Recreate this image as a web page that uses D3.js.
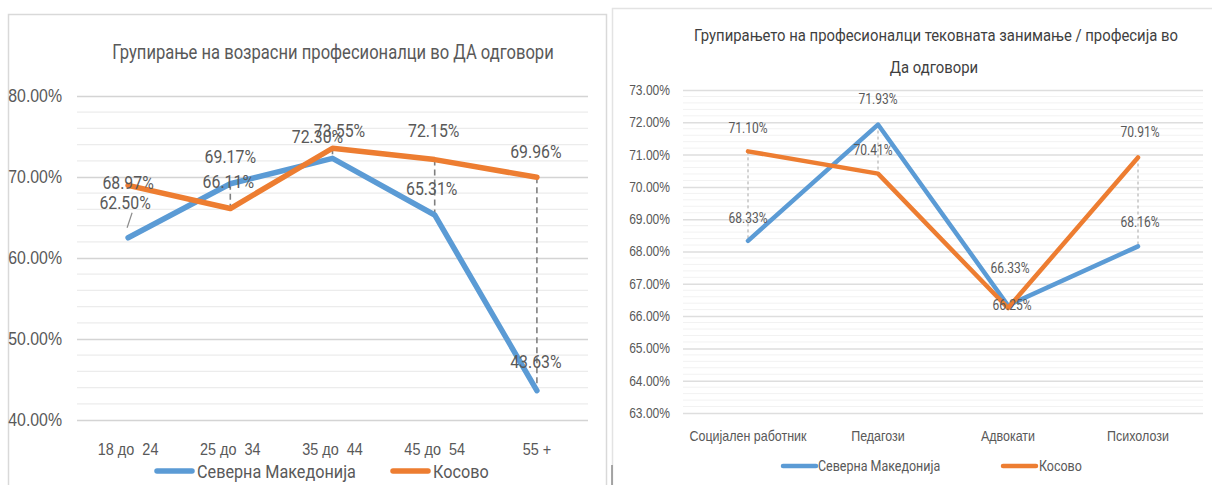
<!DOCTYPE html>
<html>
<head>
<meta charset="utf-8">
<script src="https://cdn.jsdelivr.net/npm/d3@7"></script>
<style>
  body { margin: 0; background: #fff; }
  svg { display: block; font-family: Roboto, "Liberation Sans", sans-serif; }
  text { white-space: pre; }
</style>
</head>
<body>
<script>
// left chart: age groups
var ageGroups = ["18 до  24", "25 до  34", "35 до  44", "45 до  54", "55 +"];
var ageMK = [62.50, 69.17, 72.30, 65.31, 43.63];
var ageKS = [68.97, 66.11, 73.55, 72.15, 69.96];
var ageTicks = [40, 50, 60, 70, 80];

// right chart: professions
var professions = ["Социјален работник", "Педагози", "Адвокати", "Психолози"];
var profMK = [68.33, 71.93, 66.33, 68.16];
var profKS = [71.10, 70.41, 66.25, 70.91];
var profTicks = [63, 64, 65, 66, 67, 68, 69, 70, 71, 72, 73];

var seriesNames = ["Северна Македонија", "Косово"];
var colors = ["#5b9bd5", "#ed7d31"];

// narrow the glyphs a bit, no condensed font is installed
function squeeze(sel, f) {
  sel.each(function() {
    var len = this.getComputedTextLength();
    d3.select(this).attr("textLength", len * f).attr("lengthAdjust", "spacingAndGlyphs");
  });
}

function init(){

var svg = d3.select("body").append("svg")
  .attr("width", 1212)
  .attr("height", 485);

// panel frames
svg.append("path")
  .attr("d", "M8.5,485 V14.5 H606.5 V485")
  .attr("fill", "none").attr("stroke", "#d9d9d9").attr("stroke-width", 1.5);
svg.append("path")
  .attr("d", "M612.5,485 V8.5 H1212")
  .attr("fill", "none").attr("stroke", "#e3e3e3").attr("stroke-width", 1.5);
svg.append("line")
  .attr("x1", 612).attr("x2", 612).attr("y1", 465).attr("y2", 485)
  .attr("stroke", "#8c8c8c").attr("stroke-width", 1.5);

// ---------- left chart ----------
var x1 = d3.scaleBand().domain(ageGroups).range([77, 588]);
var y1 = d3.scaleLinear().domain([40, 80]).range([420, 96]);

var g1 = svg.append("g");

g1.append("text")
  .attr("x", 333).attr("y", 52)
  .attr("text-anchor", "middle").attr("dominant-baseline", "central")
  .attr("fill", "#595959").style("font-size", "19.5px")
  .text("Групирање на возрасни професионалци во ДА одговори")
  .call(squeeze, 0.85);

// minor grid every 2%
g1.append("g").selectAll("line")
  .data(d3.range(42, 80, 2).filter(function(d) { return d % 10 != 0; }))
  .enter().append("line")
  .attr("x1", 77).attr("x2", 588)
  .attr("y1", function(d) { return y1(d); }).attr("y2", function(d) { return y1(d); })
  .attr("stroke", "#ececec").attr("stroke-width", 1.2);

var yAxis1 = d3.axisLeft(y1).tickValues(ageTicks)
  .tickSize(-511).tickPadding(15)
  .tickFormat(function(d) { return d3.format(".2f")(d) + "%"; });

g1.append("g")
  .attr("transform", "translate(77,0)")
  .call(yAxis1)
  .call(function(g) {
    g.select(".domain").remove();
    g.selectAll(".tick line").attr("stroke", "#d4d4d4").attr("stroke-width", 1.6);
    g.selectAll(".tick text").attr("fill", "#595959").style("font-size", "18px")
      .call(squeeze, 0.88);
  });

var xAxis1 = d3.axisBottom(x1).tickSize(0).tickPadding(23);
g1.append("g")
  .attr("transform", "translate(0,420)")
  .call(xAxis1)
  .call(function(g) {
    g.select(".domain").remove();
    g.selectAll(".tick text").attr("fill", "#595959").style("font-size", "17px")
      .call(squeeze, 0.85);
  });

// high-low lines
var drop1 = [1, 2, 3, 4];
g1.append("g").selectAll("line")
  .data(drop1).enter().append("line")
  .attr("x1", function(i) { return x1(ageGroups[i]) + x1.bandwidth() / 2; })
  .attr("x2", function(i) { return x1(ageGroups[i]) + x1.bandwidth() / 2; })
  .attr("y1", function(i) { return y1(Math.max(ageMK[i], ageKS[i])); })
  .attr("y2", function(i) { return y1(Math.min(ageMK[i], ageKS[i])); })
  .attr("stroke", "#7f7f7f").attr("stroke-width", 1.6)
  .attr("stroke-dasharray", "6,4");

// leader line for first label
g1.append("line")
  .attr("x1", x1(ageGroups[0]) + x1.bandwidth() / 2 - 1)
  .attr("x2", x1(ageGroups[0]) + x1.bandwidth() / 2 + 4)
  .attr("y1", y1(ageMK[0]) - 10).attr("y2", y1(ageMK[0]) - 25)
  .attr("stroke", "#8c8c8c").attr("stroke-width", 1.2);

var line1 = d3.line()
  .x(function(d, i) { return x1(ageGroups[i]) + x1.bandwidth() / 2; })
  .y(function(d) { return y1(d); });

[ageMK, ageKS].forEach(function(s, k) {
  g1.append("path")
    .datum(s)
    .attr("d", line1)
    .attr("fill", "none")
    .attr("stroke", colors[k])
    .attr("stroke-width", 5.5)
    .attr("stroke-linejoin", "round")
    .attr("stroke-linecap", "round");
});

// label offsets [dx, dy] from the point
var lab1 = [
  [[-3, -35], [0, -27], [-15, -22], [-3, -26], [-1, -29]],
  [[0, -3], [-2, -27], [7, -18], [-1, -29], [-1, -26]]
];
[ageMK, ageKS].forEach(function(s, k) {
  g1.append("g").selectAll("text")
    .data(s).enter().append("text")
    .attr("x", function(d, i) { return x1(ageGroups[i]) + x1.bandwidth() / 2 + lab1[k][i][0]; })
    .attr("y", function(d, i) { return y1(d) + lab1[k][i][1]; })
    .attr("text-anchor", "middle").attr("dominant-baseline", "central")
    .attr("fill", "#595959").style("font-size", "18px")
    .text(function(d) { return d3.format(".2f")(d) + "%"; })
    .call(squeeze, 0.88);
});

// legend
var leg1 = [[157, 197], [393, 433]];
seriesNames.forEach(function(n, k) {
  g1.append("line")
    .attr("x1", leg1[k][0]).attr("x2", leg1[k][0] + 35)
    .attr("y1", 471).attr("y2", 471)
    .attr("stroke", colors[k]).attr("stroke-width", 5.5)
    .attr("stroke-linecap", "round");
  g1.append("text")
    .attr("x", leg1[k][1]).attr("y", 471)
    .attr("dominant-baseline", "central")
    .attr("fill", "#595959").style("font-size", "18px")
    .text(n)
    .call(squeeze, 0.9);
});

// ---------- right chart ----------
var x2 = d3.scaleBand().domain(professions).range([683, 1203]);
var y2 = d3.scaleLinear().domain([63, 73]).range([413, 90]);

var g2 = svg.append("g");

g2.append("text")
  .attr("x", 936).attr("y", 35)
  .attr("text-anchor", "middle").attr("dominant-baseline", "central")
  .attr("fill", "#3f3f3f").style("font-size", "16.5px")
  .text("Групирањето на професионалци тековната занимање / професија во")
  .call(squeeze, 0.9);
g2.append("text")
  .attr("x", 934).attr("y", 67)
  .attr("text-anchor", "middle").attr("dominant-baseline", "central")
  .attr("fill", "#3f3f3f").style("font-size", "16.5px")
  .text("Да одговори")
  .call(squeeze, 0.9);

// minor grid every 0.2%
g2.append("g").selectAll("line")
  .data(d3.range(63.2, 73, 0.2).filter(function(d) { return Math.abs(d - Math.round(d)) > 0.05; }))
  .enter().append("line")
  .attr("x1", 683).attr("x2", 1203)
  .attr("y1", function(d) { return y2(d); }).attr("y2", function(d) { return y2(d); })
  .attr("stroke", "#f2f2f2").attr("stroke-width", 1);

var yAxis2 = d3.axisLeft(y2).tickValues(profTicks)
  .tickSize(-520).tickPadding(13)
  .tickFormat(function(d) { return d3.format(".2f")(d) + "%"; });

g2.append("g")
  .attr("transform", "translate(683,0)")
  .call(yAxis2)
  .call(function(g) {
    g.select(".domain").remove();
    g.selectAll(".tick line").attr("stroke", "#dedede").attr("stroke-width", 1.5);
    g.selectAll(".tick text").attr("fill", "#595959").style("font-size", "14px")
      .call(squeeze, 0.86);
  });

var xAxis2 = d3.axisBottom(x2).tickSize(0).tickPadding(18);
g2.append("g")
  .attr("transform", "translate(0,413)")
  .call(xAxis2)
  .call(function(g) {
    g.select(".domain").remove();
    g.selectAll(".tick text").attr("fill", "#595959").style("font-size", "14.5px")
      .call(squeeze, 0.86);
  });

// high-low lines
g2.append("g").selectAll("line")
  .data(professions).enter().append("line")
  .attr("x1", function(d) { return x2(d) + x2.bandwidth() / 2; })
  .attr("x2", function(d) { return x2(d) + x2.bandwidth() / 2; })
  .attr("y1", function(d, i) { return y2(Math.max(profMK[i], profKS[i])); })
  .attr("y2", function(d, i) { return y2(Math.min(profMK[i], profKS[i])); })
  .attr("stroke", "#a6a6a6").attr("stroke-width", 1)
  .attr("stroke-dasharray", "3,3");

var line2 = d3.line()
  .x(function(d, i) { return x2(professions[i]) + x2.bandwidth() / 2; })
  .y(function(d) { return y2(d); });

[profMK, profKS].forEach(function(s, k) {
  g2.append("path")
    .datum(s)
    .attr("d", line2)
    .attr("fill", "none")
    .attr("stroke", colors[k])
    .attr("stroke-width", 4.5)
    .attr("stroke-linejoin", "round")
    .attr("stroke-linecap", "round");
});

var lab2 = [
  [[0, -23], [0, -26], [2, -37], [2, -24]],
  [[0, -23], [-5, -24], [4, -3], [2, -26]]
];
[profMK, profKS].forEach(function(s, k) {
  g2.append("g").selectAll("text")
    .data(s).enter().append("text")
    .attr("x", function(d, i) { return x2(professions[i]) + x2.bandwidth() / 2 + lab2[k][i][0]; })
    .attr("y", function(d, i) { return y2(d) + lab2[k][i][1]; })
    .attr("text-anchor", "middle").attr("dominant-baseline", "central")
    .attr("fill", "#595959").style("font-size", "14px")
    .text(function(d) { return d3.format(".2f")(d) + "%"; })
    .call(squeeze, 0.86);
});

var leg2 = [[783, 818], [1003, 1039]];
seriesNames.forEach(function(n, k) {
  g2.append("line")
    .attr("x1", leg2[k][0]).attr("x2", leg2[k][0] + 33)
    .attr("y1", 466).attr("y2", 466)
    .attr("stroke", colors[k]).attr("stroke-width", 4.5)
    .attr("stroke-linecap", "round");
  g2.append("text")
    .attr("x", leg2[k][1]).attr("y", 466)
    .attr("dominant-baseline", "central")
    .attr("fill", "#595959").style("font-size", "14.5px")
    .text(n)
    .call(squeeze, 0.86);
});

}
window.onload = init;
</script>
</body>
</html>
